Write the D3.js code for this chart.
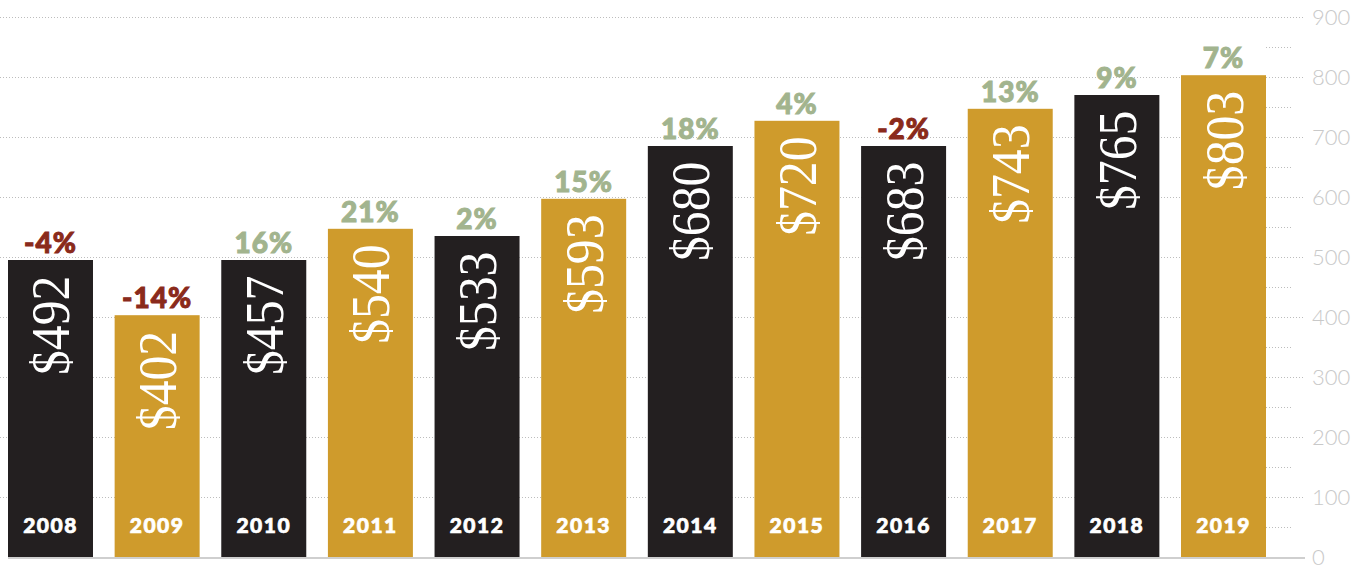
<!DOCTYPE html>
<html>
<head>
<meta charset="utf-8">
<script src="https://cdn.jsdelivr.net/npm/d3@7"></script>
<style>
  html, body { margin: 0; padding: 0; background: #fff; }
  svg { display: block; }
</style>
</head>
<body>
<svg id="chart" width="1362" height="568"></svg>
<script>
// Chart data
const years = ['2008', '2009', '2010', '2011', '2012', '2013', '2014', '2015', '2016', '2017', '2018', '2019'];
const barHeights = [495, 403, 495, 547, 535, 597, 685, 727, 685, 747, 770, 803];
const valueLabels = ['$492', '$402', '$457', '$540', '$533', '$593', '$680', '$720', '$683', '$743', '$765', '$803'];
const changeLabels = ['-4%', '-14%', '16%', '21%', '2%', '15%', '18%', '4%', '-2%', '13%', '9%', '7%'];
const yTicks = [0, 100, 200, 300, 400, 500, 600, 700, 800, 900];
const yMinorTicks = [50, 150, 250, 350, 450, 550, 650, 750, 850];

const colors = {
  dark: '#231f20',
  gold: '#cf9b2c',
  up: '#a2b48e',
  down: '#8a2a1b',
  grid: '#bdbdbd',
  axisText: '#c9c9c9'
};

const svg = d3.select('#chart');

const x = d3.scaleBand()
  .domain(years)
  .range([8, 1266])
  .paddingInner(0.203)
  .paddingOuter(0);

const y = d3.scaleLinear()
  .domain([0, 900])
  .range([557, 17]);

// Gridlines (major, full width)
svg.append('g')
  .selectAll('line')
  .data(yTicks.filter(d => d > 0))
  .join('line')
  .attr('x1', 0)
  .attr('x2', 1305)
  .attr('y1', d => Math.round(y(d)) + 0.5)
  .attr('y2', d => Math.round(y(d)) + 0.5)
  .attr('stroke', colors.grid)
  .attr('stroke-width', 1)
  .attr('stroke-dasharray', '1,2');

// Minor ticks near the axis
svg.append('g')
  .selectAll('line')
  .data(yMinorTicks)
  .join('line')
  .attr('x1', 1266)
  .attr('x2', 1291)
  .attr('y1', d => Math.round(y(d)) + 0.5)
  .attr('y2', d => Math.round(y(d)) + 0.5)
  .attr('stroke', colors.grid)
  .attr('stroke-width', 1)
  .attr('stroke-dasharray', '1,2');

// Axis labels on the right
const yAxis = svg.append('g')
  .attr('transform', 'translate(1312,0)')
  .call(d3.axisRight(y).tickValues(yTicks).tickSize(0).tickPadding(0));
yAxis.select('.domain').remove();
yAxis.selectAll('text')
  .attr('fill', colors.axisText)
  .attr('dy', '0.32em')
  .style('font-family', 'Lato, "Open Sans", sans-serif')
  .style('font-weight', 300)
  .style('font-size', '22px');

// Bars
const bars = svg.append('g')
  .selectAll('g')
  .data(years.map((yr, i) => ({ year: yr, h: barHeights[i], label: valueLabels[i], change: changeLabels[i], i })))
  .join('g');

bars.append('rect')
  .attr('x', d => x(d.year))
  .attr('y', d => y(d.h))
  .attr('width', x.bandwidth())
  .attr('height', d => y(0) - y(d.h))
  .attr('fill', d => d.i % 2 === 0 ? colors.dark : colors.gold);

// Baseline
svg.append('line')
  .attr('x1', 8)
  .attr('x2', 1305)
  .attr('y1', y(0) + 1)
  .attr('y2', y(0) + 1)
  .attr('stroke', '#cfcfcf')
  .attr('stroke-width', 2);

// Year labels inside bars
bars.append('text')
  .attr('x', d => x(d.year) + x.bandwidth() / 2)
  .attr('y', 533)
  .attr('text-anchor', 'middle')
  .attr('fill', '#fff')
  .attr('stroke', '#fff')
  .attr('stroke-width', 0.7)
  .style('font-family', 'Lato, "Open Sans", sans-serif')
  .style('font-weight', 900)
  .style('font-size', '21px')
  .style('letter-spacing', '1.5px')
  .text(d => d.year);

// Percent change above bars
bars.append('text')
  .attr('x', d => x(d.year) + x.bandwidth() / 2)
  .attr('y', d => y(d.h) - 7)
  .attr('text-anchor', 'middle')
  .attr('fill', d => d.change.startsWith('-') ? colors.down : colors.up)
  .attr('stroke', d => d.change.startsWith('-') ? colors.down : colors.up)
  .attr('stroke-width', 1)
  .style('font-family', 'Lato, "Open Sans", sans-serif')
  .style('font-weight', 900)
  .style('font-size', '28px')
  .style('letter-spacing', '1px')
  .text(d => d.change);

// Rotated dollar values
bars.append('text')
  .attr('transform', d => `translate(${x(d.year) + x.bandwidth() / 2 + 19}, ${y(d.h) + 115}) rotate(-90) scale(0.92, 1)`)
  .attr('text-anchor', 'start')
  .attr('fill', '#fff')
  .style('font-family', '"Liberation Serif", "DejaVu Serif", serif')
  .style('font-size', '54px')
  .text(d => d.label);
</script>
</body>
</html>
